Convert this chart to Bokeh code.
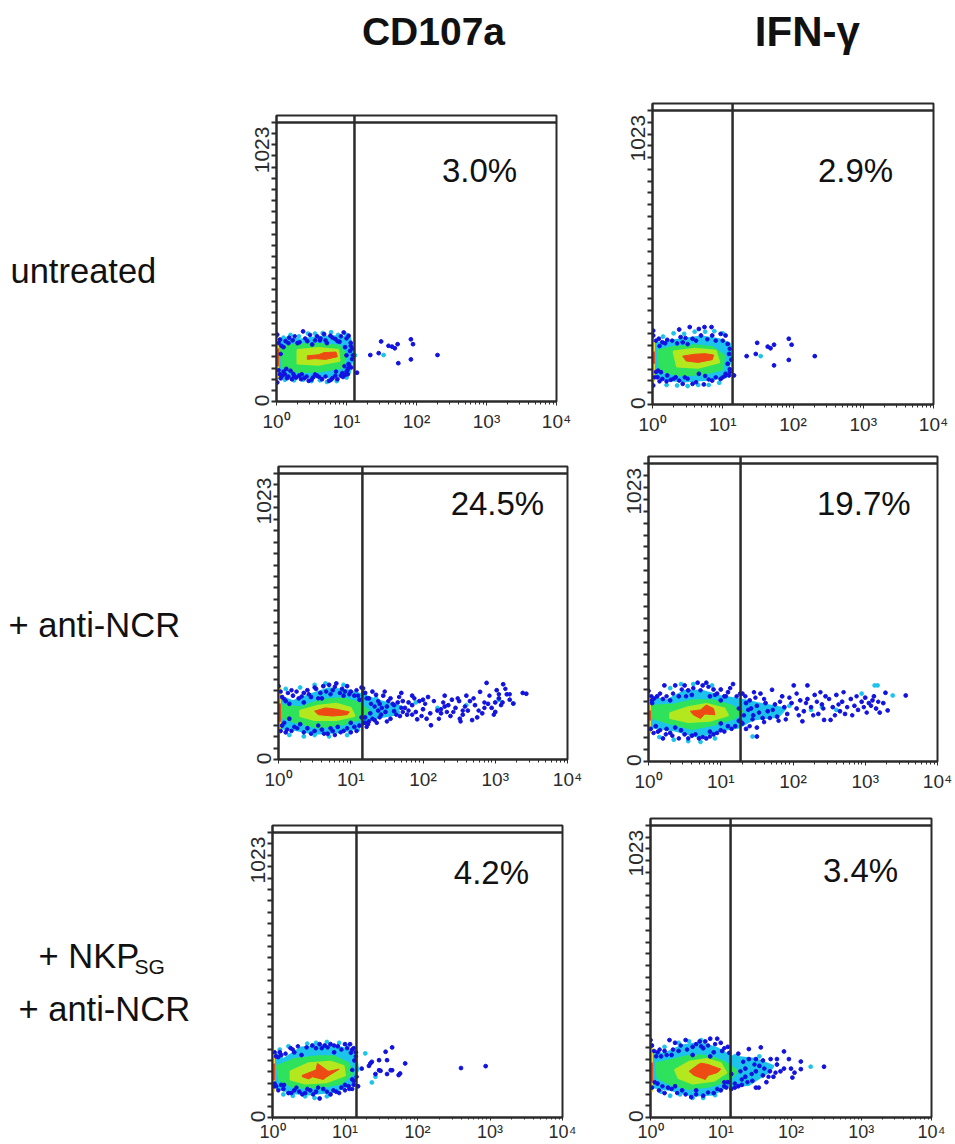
from math import pi
from bokeh.plotting import figure
from bokeh.layouts import row, column
from bokeh.models import Label, Range1d, FixedTicker, LogTicker
from bokeh.embed import file_html
from bokeh.resources import INLINE

INK = "#2b2b2b"
FONT = "Liberation Sans"
C_BLUE, C_CYAN, C_GREEN, C_LIME, C_RED, C_YEL = "#1212e0", "#1cc4ec", "#2ee25c", "#b4e81e", "#ee4a14", "#f0d830"

col_titles = ["CD107a", "IFN-γ"]
row_labels = ["untreated", "+ anti-NCR", "+ NKP", "+ anti-NCR"]
x_tick_labels = {1: "10⁰", 10: "10¹", 100: "10²", 1000: "10³", 10000: "10⁴"}
pct_a1, pct_a2, pct_b1, pct_b2, pct_c1, pct_c2 = "3.0%", "2.9%", "24.5%", "19.7%", "4.2%", "3.4%"
gate_a1, gate_a2, gate_b1, gate_b2, gate_c1, gate_c2 = 13.0, 13.8, 14.5, 18.8, 14.4, 13.8
Y_LABEL_LOW, Y_LABEL_HIGH = 25, 1008  # where the rotated "0" and "1023" start along the axis

# ---- A1: CD107a, untreated (log10 intensity, channel)
a1_blue_dec = [.01,.05,.13,.23,.38,.44,.51,.58,.68,.77,.84,.96,1.03,1.06,1.05,1.08,1.01,1.15,1.03,.01,.08,.15,.22,.32,.46,.58,.75,.87,.92,.2,.12,.28,.4,.52,.65,.8,.98,.36,.1,.17,.3,.62,.72,.9,.98,1.0,1.02,.14,.05,1.495,1.6,1.65,1.69,1.73,1.92,1.95,1.34,1.46,1.74,1.92,2.3]
a1_blue_ch = [246,228,222,225,258,222,210,240,248,242,230,254,242,216,186,156,113,106,138,70,95,86,82,95,76,95,76,82,95,113,100,88,86,88,82,86,98,100,200,215,215,225,215,220,200,170,120,120,100,221,205,202,196,211,229,211,171,178,141,155,171]
a1_more_blue = [(.03,215),(.07,205),(.18,235),(.26,240),(.33,218),(.41,232),(.48,245),(.55,225),(.63,232),(.7,225),(.8,235),(.87,222),(.92,240),(1.0,232),(1.06,205),(1.09,170),(1.04,128),(1.07,125),(1.0,110),(.94,105),(.03,115),(.06,85),(.1,110),(.17,92),(.25,95),(.35,82),(.43,92),(.5,80),(.61,90),(.7,92),(.78,80),(.84,95),(.95,90),(1.02,100),(.06,175),(.24,102),(.55,100),(.85,110),(.97,130),(1.08,195)]
a1_more_cyan = [(.1,235),(.2,245),(.32,240),(.45,250),(.55,250),(.66,252),(.78,255),(.88,245),(1.0,245),(.12,80),(.25,78),(.38,80),(.5,75),(.62,78),(.72,72),(.86,75),(1.0,88),(1.12,170),(1.53,171)]
a1_cyan_dec = [.0,.15,.35,.6,.85,1.05,1.1,1.05,.8,.5,.25,.08,.0]
a1_cyan_ch = [225,235,228,238,240,235,180,105,90,88,88,85,90]
a1_green_dec = [.06,.3,.6,.9,1.0,.95,.6,.3,.08]
a1_green_ch = [200,212,212,205,170,125,110,108,125]
a1_lime_dec = [.3,.6,.88,.9,.6,.3]
a1_lime_ch = [190,197,190,150,135,140]
a1_red_dec = [.44,.6,.68,.85,.87,.7,.55,.44]
a1_red_ch = [168,172,180,182,165,155,158,155]
a1_edge = (85, 235, 130, 195)

# ---- A2: IFN-γ, untreated
a2_blue_dec = [.38,.53,.66,.74,.84,.01,.01,.09,.14,.21,.4,.43,.57,.69,.85,.97,1.04,1.07,1.09,1.07,1.04,1.16,.01,.07,.14,.26,.43,.57,.73,.85,.97,.12,.21,.33,.66,1.09,1.49,1.64,1.68,1.73,1.94,1.98,1.34,1.47,1.73,1.94,2.31]
a2_blue_ch = [276,285,278,285,285,272,254,242,229,238,248,229,242,254,254,260,254,223,186,150,113,107,70,100,94,91,76,76,74,88,94,119,107,100,113,107,227,213,207,220,242,220,178,186,144,164,178]
a2_more_blue = [(.05,235),(.1,215),(.18,225),(.28,235),(.35,225),(.47,245),(.5,222),(.62,235),(.78,240),(.9,235),(1.0,235),(1.1,205),(1.12,165),(1.1,130),(1.0,100),(.05,120),(.1,85),(.2,85),(.3,95),(.38,88),(.5,95),(.62,82),(.8,92),(.9,100),(1.03,105),(1.1,120),(.03,100),(.08,125),(.46,100),(.75,105)]
a2_more_cyan = [(.15,250),(.3,262),(.45,260),(.6,268),(.75,268),(.88,270),(1.0,262),(.2,72),(.35,70),(.5,68),(.65,72),(.8,72),(.95,80),(1.54,178)]
a2_cyan_dec = [.0,.2,.4,.7,.95,1.1,1.12,1.05,.75,.45,.2,.05,.0]
a2_cyan_ch = [225,232,240,250,240,225,170,100,90,85,90,100,110]
a2_green_dec = [.08,.3,.6,.85,1.02,1.0,.7,.35,.1]
a2_green_ch = [200,212,218,212,180,130,110,108,125]
a2_lime_dec = [.3,.6,.9,.95,.65,.35]
a2_lime_ch = [195,205,198,155,135,140]
a2_red_dec = [.43,.6,.75,.87,.85,.65,.48]
a2_red_ch = [178,185,187,182,165,155,160]
a2_edge = (85, 230, 150, 195)

# ---- B1: CD107a, + anti-NCR
b1_blue_dec = [.0,.05,.1,.2,.28,.35,.4,.45,.52,.58,.62,.7,.75,.8,.88,.95,1.0,1.05,1.12,1.15,.15,.35,.6,.9,.05,.1,.15,.22,.3,.4,.5,.6,.68,.75,.82,.9,1.0,1.05,1.12,1.0,1.15,1.2,1.17,1.2,1.25,1.3,1.35,1.4,1.45,1.5,1.55,1.6,1.65,1.7,1.75,1.78,1.85,1.85,1.9,1.95,2.0,2.05,2.07,2.11,2.2,2.25,2.3,2.35,2.38,2.45,2.51,2.55,2.6,2.62,2.68,2.72,2.79,2.82,2.88,2.95,3.0,3.02,3.05,3.11,3.16,3.25,3.38,3.43,3.1,2.9,2.75,2.5,2.3,2.1,1.92,1.72,1.68,1.55,1.42,1.33,1.27,1.2,1.25,1.38,1.48,1.6,1.8,2.0,2.4,2.65,3.0,3.2]
b1_blue_ch = [270,230,215,235,225,245,255,230,260,245,270,275,255,280,260,270,250,235,220,265,205,210,225,235,125,100,150,120,130,115,105,110,95,105,120,105,100,120,125,135,155,135,262,245,225,250,238,205,235,195,225,178,210,245,190,165,235,200,175,215,185,150,230,126,180,170,235,200,160,190,150,165,235,180,145,200,249,170,282,190,175,255,225,277,240,206,245,242,210,205,155,215,195,170,148,215,160,150,165,145,170,155,140,180,175,200,210,220,220,215,210,220]
b1_more_blue = [(.03,250),(.08,222),(.13,245),(.18,255),(.25,250),(.32,232),(.42,240),(.5,265),(.55,225),(.66,250),(.72,240),(.78,268),(.85,245),(.92,250),(.98,240),(1.08,255),(1.1,235),(1.18,245),(.03,105),(.08,135),(.12,110),(.18,105),(.26,115),(.35,100),(.45,95),(.55,125),(.63,95),(.72,115),(.78,90),(.86,100),(.95,115),(1.08,105),(1.18,135),(1.22,120),
                (1.22,225),(1.28,205),(1.33,195),(1.38,215),(1.43,190),(1.47,250),(1.52,215),(1.58,205),(1.63,165),(1.67,230),(1.72,175),(1.8,180),(1.88,225),(1.98,160),(2.03,205),(2.15,215),(2.22,150),(2.28,210),(2.33,175),(2.42,175),(2.48,225),(2.58,195),(2.7,225),(2.77,180),(2.85,190),(2.92,235),(2.98,165),(3.08,200),(3.14,260),(3.2,240),(2.52,140),(1.36,135),(1.3,150),(1.24,130),(1.4,155),(1.5,140),(1.7,190),(1.85,165),(2.25,185),(2.55,180),(2.85,210),(3.05,240)]
b1_more_cyan = [(.1,260),(.3,265),(.5,275),(.65,280),(.9,275),(.15,90),(.35,85),(.5,90),(.7,85),(.95,90),(1.1,110),(3.25,206),(2.2,190),(2.6,200),(1.9,210),(1.35,225),(1.65,175),(3.05,220)]
b1_cyan_dec = [.0,.2,.45,.7,.95,1.15,1.4,1.7,1.6,1.3,1.1,.85,.5,.2,.0]
b1_cyan_ch = [235,215,240,262,255,240,215,195,165,150,115,100,95,110,115]
b1_green_dec = [.05,.3,.6,.9,1.1,1.25,1.15,.9,.55,.25,.05]
b1_green_ch = [200,192,220,225,210,180,150,130,118,135,155]
b1_lime_dec = [.3,.55,.8,1.0,1.05,.8,.5,.3]
b1_lime_ch = [180,198,205,190,160,145,145,160]
b1_red_dec = [.5,.65,.8,.98,.95,.75,.55]
b1_red_ch = [178,190,185,175,165,160,165]
b1_edge = (95, 270, 139, 206)

# ---- B2: IFN-γ, + anti-NCR
b2_blue_dec = [.22,.37,.5,.55,.68,.75,.8,.9,.95,1.0,1.1,1.17,1.27,.12,.2,.3,.42,.6,.85,1.05,1.0,.0,.05,.05,.03,.1,.13,.2,.3,.37,.5,.6,.7,.8,.9,1.0,1.1,1.2,1.25,1.0,.45,.25,.85,1.3,1.35,1.4,1.42,1.45,1.5,1.55,1.58,1.62,1.65,1.71,1.75,1.78,1.85,1.88,1.92,1.98,2.01,2.05,2.1,2.13,2.15,2.2,2.2,2.25,2.3,2.35,2.43,2.4,2.45,2.52,2.55,2.6,2.65,2.68,2.72,2.8,2.85,2.9,2.95,3.0,3.05,3.1,3.15,3.2,3.12,3.28,3.31,3.25,3.56,1.5,1.3,1.35,1.5]
b2_blue_ch = [280,280,280,262,290,280,290,265,250,265,255,285,250,240,230,225,240,245,240,240,225,260,225,215,120,130,110,85,105,125,100,95,85,85,100,115,130,130,150,140,115,120,110,250,215,225,195,170,205,250,160,215,185,264,210,165,240,200,175,215,280,195,225,148,185,280,230,200,245,175,153,210,240,153,200,245,185,220,175,230,205,190,220,235,215,225,195,180,240,253,188,215,243,92,140,120,125]
b2_more_blue = [(.04,240),(.08,232),(.16,250),(.25,240),(.34,250),(.46,265),(.52,240),(.62,270),(.72,262),(.83,275),(.92,245),(1.07,240),(1.13,270),(1.22,240),(.07,105),(.16,115),(.24,100),(.33,95),(.42,85),(.55,85),(.65,100),(.75,90),(.85,92),(.95,105),(1.05,110),(1.15,120),
                (1.32,170),(1.38,190),(1.44,155),(1.48,235),(1.53,180),(1.6,230),(1.68,160),(1.72,190),(1.82,220),(1.9,155),(1.95,235),(2.08,170),(2.18,215),(2.28,170),(2.33,220),(2.42,195),(2.5,230),(2.58,170),(2.63,210),(2.75,200),(2.82,170),(2.88,240),(2.98,200),(3.02,180),(3.08,205),(3.18,220),(1.28,145),(1.4,130),(1.6,145),(1.8,150),(1.25,195),(1.34,240),(1.46,255),(2.05,250),(2.38,255),(2.7,255)]
b2_more_cyan = [(.3,270),(.45,285),(.62,285),(.88,280),(.15,90),(.35,80),(.55,75),(.72,72),(.92,85),(1.44,92),(3.38,243),(3.17,280),(3.13,280),(2.95,250),(2.4,200),(2.6,190),(1.95,205),(2.25,190)]
b2_cyan_dec = [.0,.25,.5,.75,1.0,1.25,1.5,1.9,1.8,1.45,1.25,1.0,.7,.35,.05]
b2_cyan_ch = [240,225,260,260,240,230,215,195,165,155,125,115,90,115,125]
b2_green_dec = [.05,.35,.6,.9,1.15,1.3,1.2,.9,.6,.3,.05]
b2_green_ch = [205,210,225,225,205,185,160,135,120,140,160]
b2_lime_dec = [.3,.55,.8,1.05,1.1,.85,.55,.3]
b2_lime_ch = [178,200,212,195,170,150,145,160]
b2_red_dec = [.58,.72,.8,.9,.92,.78,.72,.62]
b2_red_ch = [185,190,208,195,172,175,158,172]
b2_edge = (105, 245, 151, 188)

# ---- C1: CD107a, + NKPsg + anti-NCR
c1_blue_dec = [.05,.1,.12,.25,.3,.4,.55,.65,.72,.8,.9,1.0,1.07,1.12,1.15,1.13,1.1,.85,.02,.05,.12,.15,.22,.3,.37,.45,.52,.6,.65,.7,.8,.88,.95,1.05,1.1,1.18,1.0,1.12,1.65,1.56,1.35,1.47,1.58,1.83,1.76,1.63,1.47,1.42,1.23,1.37,1.33,1.74,1.58,1.65,1.49,2.6,2.94]
c1_blue_ch = [225,240,230,255,240,230,265,270,265,270,262,270,270,255,240,210,250,240,115,115,120,105,90,100,95,90,100,95,70,105,85,95,110,115,140,115,120,135,258,242,199,211,211,199,162,174,174,160,180,205,190,156,160,174,172,182,189]
c1_more_blue = [(.03,240),(.08,222),(.18,235),(.28,250),(.35,262),(.47,258),(.6,255),(.68,255),(.76,258),(.85,265),(.95,250),(1.03,255),(1.08,238),(1.15,225),(1.1,175),(1.16,150),(1.12,120),(1.06,105),(.03,125),(.08,100),(.16,120),(.26,90),(.33,110),(.41,85),(.48,105),(.56,85),(.63,110),(.75,95),(.84,100),(.92,90),(1.0,100),(1.1,105)]
c1_more_cyan = [(.1,250),(.22,262),(.48,272),(.6,275),(.75,278),(.92,275),(1.04,262),(.15,85),(.28,80),(.45,78),(.58,72),(.75,78),(1.28,236),(1.37,129),(1.42,150)]
c1_cyan_dec = [.0,.15,.4,.7,.95,1.15,1.18,1.1,.85,.5,.25,.05]
c1_cyan_ch = [245,215,258,265,258,240,175,120,95,85,90,110]
c1_green_dec = [.06,.3,.6,.85,1.05,1.1,.95,.65,.3,.1]
c1_green_ch = [190,215,225,225,200,160,125,110,110,135]
c1_lime_dec = [.25,.5,.8,.98,1.0,.75,.45,.25]
c1_lime_ch = [170,200,205,190,155,130,125,140]
c1_red_dec = [.41,.6,.62,.76,.78,.92,.75,.7,.55,.5,.41]
c1_red_ch = [155,175,199,172,170,178,150,140,150,142,150]
c1_edge = (95, 250, 137, 199)

# ---- C2: IFN-γ, + NKPsg + anti-NCR
c2_blue_dec = [.0,.02,.1,.2,.27,.35,.5,.6,.7,.78,.85,.95,1.0,1.1,.9,.85,.15,.3,.4,.6,.75,1.02,.02,.1,.2,.25,.45,.58,.75,.9,1.0,1.15,1.25,1.1,.35,.65,1.05,1.15,1.2,1.25,1.3,1.35,1.35,1.4,1.4,1.45,1.5,1.5,1.5,1.54,1.57,1.55,1.6,1.6,1.65,1.7,1.71,1.75,1.8,1.8,1.85,1.9,1.9,1.97,2.0,2.02,2.05,2.14,2.14,2.47]
c2_blue_ch = [285,265,240,245,285,275,285,260,280,280,290,290,275,260,240,225,225,230,245,230,255,245,110,125,90,110,100,75,80,90,100,105,115,130,115,100,115,160,110,235,120,150,180,252,215,135,110,170,215,110,258,190,210,155,130,170,215,150,215,195,170,243,180,215,180,147,165,206,178,187]
c2_more_blue = [(.05,245),(.08,225),(.13,250),(.23,230),(.32,250),(.43,265),(.52,250),(.65,270),(.72,262),(.82,265),(.92,270),(1.05,255),(1.12,238),(.06,130),(.12,100),(.17,115),(.3,105),(.38,90),(.5,85),(.65,85),(.82,92),(.95,105),(1.08,110),(1.2,125),(1.3,140),(1.38,130),(1.44,160),(1.28,170),(1.32,205),(1.48,195),(1.62,180),(1.68,150),(1.78,165),(1.05,130)]
c2_more_cyan = [(.2,260),(.4,275),(.55,280),(.72,285),(.15,95),(.28,80),(.42,85),(.6,72),(.75,72),(.92,82),(1.2,225),(1.55,225),(2.28,187)]
c2_cyan_dec = [.0,.2,.45,.7,.95,1.15,1.5,1.75,1.7,1.4,1.1,.9,.6,.3,.05]
c2_cyan_ch = [240,235,265,275,255,225,215,190,170,120,115,85,80,100,110]
c2_green_dec = [.08,.35,.6,.85,1.05,1.25,1.1,.85,.55,.3,.1]
c2_green_ch = [200,215,230,225,205,170,135,115,105,120,145]
c2_lime_dec = [.35,.55,.8,1.0,1.08,.9,.6,.4]
c2_lime_ch = [175,205,215,200,165,135,125,145]
c2_red_dec = [.55,.68,.72,.82,1.0,.95,.82,.78,.62]
c2_red_ch = [170,195,200,195,178,165,155,140,155]
c2_edge = (95, 255, 130, 202)

READ_PX_PER_CH = 0.2717  # calibration used when the channels above were read
B_LEFT, B_BOTTOM, B_TOP, B_RIGHT = 40, 34, 2, 20


def pw(d):
    return [10 ** v for v in d]


def panel(left, right, top, axis, gate, pct, pct_dec, pct_ch, lay, margin, bottom, font, standoff, tick):
    w, h = right - left, axis - top
    ymax = 1023 * h / (h - 7)
    k = READ_PX_PER_CH / ((h - 7) / 1023)
    sc = lambda v: [c * k for c in v]
    p = figure(width=w + B_LEFT + B_RIGHT, height=h + B_TOP + bottom, x_axis_type="log",
               x_range=Range1d(1, 10000), y_range=Range1d(0, ymax), toolbar_location=None,
               output_backend="svg", min_border_left=B_LEFT, min_border_right=B_RIGHT,
               min_border_top=B_TOP, min_border_bottom=bottom, margin=margin)
    p.grid.visible = False
    p.background_fill_color = "white"
    p.outline_line_color = INK
    p.outline_line_width = 2
    ax = p.xaxis[0]
    ax.ticker = LogTicker(num_minor_ticks=10, desired_num_ticks=5)
    ax.major_label_overrides = dict(x_tick_labels)
    ax.major_label_text_font = FONT
    ax.major_label_text_font_size = font
    ax.major_label_text_color = INK
    ax.major_label_standoff = standoff
    ax.axis_line_color = INK
    ax.axis_line_width = 2
    ax.major_tick_in = 0
    ax.major_tick_out = tick
    ax.minor_tick_in = 0
    ax.minor_tick_out = tick - 1
    ax.major_tick_line_color = INK
    ax.minor_tick_line_color = INK
    ay = p.yaxis[0]
    # only the labels hang on major ticks; every drawn tick is a minor one
    ay.ticker = FixedTicker(ticks=[Y_LABEL_LOW, Y_LABEL_HIGH], minor_ticks=[1023 * i / 25 for i in range(0, 26)])
    ay.major_label_overrides = {Y_LABEL_LOW: "0", Y_LABEL_HIGH: "1023"}
    ay.major_label_orientation = pi / 2
    ay.major_label_text_font = FONT
    ay.major_label_text_font_size = "21px"
    ay.major_label_text_color = INK
    ay.major_label_standoff = 9
    ay.axis_line_color = INK
    ay.axis_line_width = 2
    ay.major_tick_in = 0
    ay.major_tick_out = 5
    ay.major_tick_line_color = None
    ay.minor_tick_in = 0
    ay.minor_tick_out = 5
    ay.minor_tick_line_width = 2
    ay.minor_tick_line_color = INK

    (blue_d, blue_c, more_b, more_c, cy_d, cy_c, gr_d, gr_c, li_d, li_c, re_d, re_c, edge) = lay
    p.patch(pw(cy_d), sc(cy_c), fill_color=C_CYAN, line_color=C_CYAN, line_width=2)
    p.patch(pw(gr_d), sc(gr_c), fill_color=C_GREEN, line_color=C_GREEN, line_width=2)
    p.patch(pw(li_d), sc(li_c), fill_color=C_LIME, line_color=C_LIME, line_width=2)
    p.patch(pw(re_d), sc(re_c), fill_color=C_RED, line_color=C_RED, line_width=1)
    p.line([1, 1], sc(edge[:2]), line_color=C_YEL, line_width=5)
    p.line([1, 1], sc(edge[2:]), line_color=C_RED, line_width=5)
    p.scatter(pw([a for a, _ in more_c]), sc([b for _, b in more_c]), size=3.8, color=C_CYAN)
    p.scatter(pw([a for a, _ in more_b]), sc([b for _, b in more_b]), size=3.6, color=C_BLUE)
    p.scatter(pw(blue_d), sc(blue_c), size=3.8, color=C_BLUE)

    p.line([1, 10000], [1023, 1023], line_color=INK, line_width=2.5)
    p.line([gate, gate], [0, ymax], line_color=INK, line_width=2.5)

    p.add_layout(Label(x=10 ** pct_dec, y=pct_ch * k, x_units="data", y_units="data", text=pct,
                       text_align="center", text_baseline="middle", text_font=FONT,
                       text_font_size="33px", text_color="#111111"))
    return p


COL0_W, COL1_W, COL2_W = 225, 375, 345
COL1_X, COL2_X = COL0_W, COL0_W + COL1_W
HEAD_H = 60

geo = {
    "a1": (276, 556, 115, 401), "b1": (278, 567, 466, 759), "c1": (272, 562, 825, 1117),
    "a2": (652, 933, 103, 404), "b2": (648, 937, 456, 761), "c2": (650, 931, 818, 1117),
}


def build(key, gate, pct, pd, pc, lay, col_x, col_w, prev_bottom, last=False):
    l, r, t, a = geo[key]
    bottom = 27 if last else B_BOTTOM
    ml = l - B_LEFT - col_x
    mr = col_w - ml - (r - l + B_LEFT + B_RIGHT)
    mt = t - B_TOP - prev_bottom
    font, standoff, tick = ("18px", 1, 3) if last else ("19px", 5, 4)
    return panel(l, r, t, a, gate, pct, pd, pc, lay, (mt, max(mr, 0), 0, ml), bottom, font, standoff, tick), a + bottom


def heading(text, cx, col_x, width, size):
    p = figure(width=width, height=HEAD_H, x_range=Range1d(col_x, col_x + width), y_range=Range1d(HEAD_H, 0),
               toolbar_location=None, output_backend="svg", min_border=0, margin=(0, 0, 0, 0))
    p.axis.visible = False
    p.grid.visible = False
    p.outline_line_color = None
    p.add_layout(Label(x=cx, y=31, text=text, text_align="center", text_baseline="middle",
                       text_font=FONT, text_font_style="bold", text_font_size=size, text_color="#111111"))
    return p


lay_a1 = (a1_blue_dec, a1_blue_ch, a1_more_blue, a1_more_cyan, a1_cyan_dec, a1_cyan_ch, a1_green_dec, a1_green_ch, a1_lime_dec, a1_lime_ch, a1_red_dec, a1_red_ch, a1_edge)
lay_a2 = (a2_blue_dec, a2_blue_ch, a2_more_blue, a2_more_cyan, a2_cyan_dec, a2_cyan_ch, a2_green_dec, a2_green_ch, a2_lime_dec, a2_lime_ch, a2_red_dec, a2_red_ch, a2_edge)
lay_b1 = (b1_blue_dec, b1_blue_ch, b1_more_blue, b1_more_cyan, b1_cyan_dec, b1_cyan_ch, b1_green_dec, b1_green_ch, b1_lime_dec, b1_lime_ch, b1_red_dec, b1_red_ch, b1_edge)
lay_b2 = (b2_blue_dec, b2_blue_ch, b2_more_blue, b2_more_cyan, b2_cyan_dec, b2_cyan_ch, b2_green_dec, b2_green_ch, b2_lime_dec, b2_lime_ch, b2_red_dec, b2_red_ch, b2_edge)
lay_c1 = (c1_blue_dec, c1_blue_ch, c1_more_blue, c1_more_cyan, c1_cyan_dec, c1_cyan_ch, c1_green_dec, c1_green_ch, c1_lime_dec, c1_lime_ch, c1_red_dec, c1_red_ch, c1_edge)
lay_c2 = (c2_blue_dec, c2_blue_ch, c2_more_blue, c2_more_cyan, c2_cyan_dec, c2_cyan_ch, c2_green_dec, c2_green_ch, c2_lime_dec, c2_lime_ch, c2_red_dec, c2_red_ch, c2_edge)

y0 = HEAD_H
pa1, y1 = build("a1", gate_a1, pct_a1, 2.9, 850, lay_a1, COL1_X, COL1_W, y0)
pb1, y2 = build("b1", gate_b1, pct_b1, 3.03, 942, lay_b1, COL1_X, COL1_W, y1)
pc1, _ = build("c1", gate_c1, pct_c1, 3.02, 902, lay_c1, COL1_X, COL1_W, y2, last=True)
pa2, y1 = build("a2", gate_a2, pct_a2, 2.89, 861, lay_a2, COL2_X, COL2_W, y0)
pb2, y2 = build("b2", gate_b2, pct_b2, 2.98, 950, lay_b2, COL2_X, COL2_W, y1)
pc2, _ = build("c2", gate_c2, pct_c2, 2.99, 909, lay_c2, COL2_X, COL2_W, y2, last=True)

side = figure(width=COL0_W, height=1140, x_range=Range1d(0, COL0_W), y_range=Range1d(1140, 0),
              toolbar_location=None, output_backend="svg", min_border=0, margin=(0, 0, 0, 0))
side.axis.visible = False
side.grid.visible = False
side.outline_line_color = None
for txt, x, y in zip(row_labels, [10, 8, 38, 18], [270, 624, 955, 1008]):
    side.add_layout(Label(x=x, y=y, text=txt, text_align="left", text_baseline="middle", text_font=FONT,
                          text_font_size="34.5px", text_color="#111111"))
side.add_layout(Label(x=134, y=966, text="SG", text_align="left", text_baseline="middle", text_font=FONT,
                      text_font_size="21px", text_color="#111111"))

layout = row(side,
             column(heading(col_titles[0], 425, COL1_X, COL1_W, "39px"), pa1, pb1, pc1, spacing=0),
             column(heading(col_titles[1], 802, COL2_X, COL2_W, "42px"), pa2, pb2, pc2, spacing=0),
             spacing=0)

open("out.html", "w").write(file_html(layout, INLINE))
